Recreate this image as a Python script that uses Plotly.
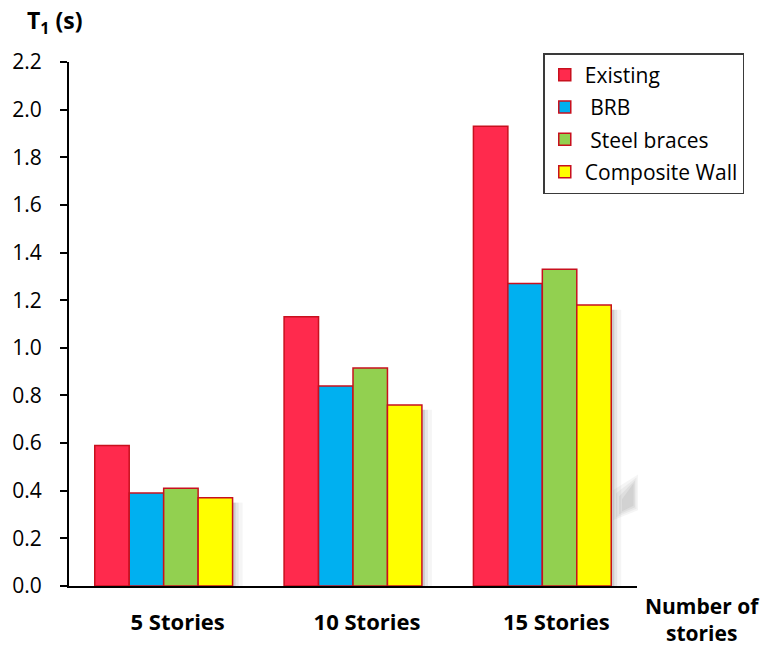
import plotly.graph_objects as go

# Fundamental period T1 (s) per building height and retrofit scheme
categories = ["5 Stories", "10 Stories", "15 Stories"]
series_names = ["Existing", " BRB", " Steel braces", "Composite Wall"]
existing = [0.59, 1.13, 1.93]
brb = [0.39, 0.84, 1.27]
steel_braces = [0.41, 0.915, 1.33]
composite_wall = [0.37, 0.76, 1.18]
y_ticks = [0.0, 0.2, 0.4, 0.6, 0.8, 1.0, 1.2, 1.4, 1.6, 1.8, 2.0, 2.2]

series_values = [existing, brb, steel_braces, composite_wall]
colors = ["#FF2A4D", "#00B0F0", "#92D050", "#FFFF00"]
outline = "#C8101E"
font_family = "Open Sans, Noto Sans, sans-serif"

# plot-area geometry in pixels, used to place the decorative smudge
L, R, T, B, W, H = 68, 127, 62, 60, 764, 648
PW, PH = W - L - R, H - T - B


def px(x):
    return (x - L) / PW


def py(y):
    return (H - B - y) / PH


fig = go.Figure()
for i, (name, vals, col) in enumerate(zip(series_names, series_values, colors)):
    fig.add_trace(go.Bar(
        x=categories, y=vals, name=name, legendgroup=f"g{i}",
        marker=dict(color=col, line=dict(color=outline, width=1.5)),
    ))

# soft drop shadow to the right of the last bar in each group
bargap = 0.272
bar_w = (1 - bargap) / len(series_values)
for ci, v in enumerate(composite_wall):
    right_edge = ci - (1 - bargap) / 2 + bar_w * len(series_values)
    for w, op in [(3, 0.16), (6, 0.10), (10, 0.06)]:
        fig.add_shape(type="rect", xref="x", yref="y", xsizemode="pixel",
                      xanchor=right_edge, x0=0, x1=w, y0=0, y1=v - 0.02,
                      line=dict(width=0), fillcolor=f"rgba(90,90,90,{op})",
                      layer="below")

# blurred grey smudge beside the tallest group
for inset, op in [(0, 0.07), (3, 0.08), (6, 0.10), (9, 0.12)]:
    pts = [(613 + inset, 492 + inset), (638 - inset / 2, 476 + inset),
           (638 - inset / 2, 512 - inset / 2), (613 + inset, 522 - inset)]
    path = "M " + " L ".join(f"{px(a):.4f},{py(b):.4f}" for a, b in pts) + " Z"
    fig.add_shape(type="path", xref="paper", yref="paper", path=path,
                  line=dict(width=0), fillcolor=f"rgba(120,120,120,{op})",
                  layer="below")

fig.update_layout(
    width=W, height=H,
    margin=dict(l=L, r=R, t=T, b=B),
    paper_bgcolor="white", plot_bgcolor="white",
    barmode="group", bargap=bargap, bargroupgap=0,
    font=dict(family=font_family, size=21, color="black"),
    showlegend=True,
    legend=dict(
        x=0.835, y=1.017, xanchor="left", yanchor="top",
        bordercolor="#3a3a3a", borderwidth=1.5, bgcolor="white",
        font=dict(size=21, color="black"),
        traceorder="grouped", tracegroupgap=2,
        itemwidth=30,
    ),
)
fig.update_yaxes(
    range=[0, 2.2], tickvals=y_ticks, ticktext=[f"{t:.1f}" for t in y_ticks],
    showgrid=False, zeroline=False,
    showline=True, linecolor="black", linewidth=2,
    ticks="outside", ticklen=7, tickwidth=2, tickcolor="black",
    ticklabelstandoff=14,
    tickfont=dict(size=21, color="black"),
)
fig.update_xaxes(
    showgrid=False, zeroline=False,
    showline=True, linecolor="black", linewidth=2,
    ticks="", ticklabelstandoff=16, ticklabelshift=14,
    tickfont=dict(size=22, color="black", weight="bold"),
)

fig.add_annotation(
    text="<b>T<sub>1</sub> (s)</b>", xref="paper", yref="paper",
    x=-0.078, y=1.077, xanchor="left", yanchor="middle", showarrow=False,
    font=dict(size=23, color="black"),
)
fig.add_annotation(
    text="<b>Number of<br>stories</b>", xref="paper", yref="paper",
    x=1.115, y=-0.064, xanchor="center", yanchor="middle", showarrow=False,
    font=dict(size=21, color="black"),
)

fig.write_html("out.html")
